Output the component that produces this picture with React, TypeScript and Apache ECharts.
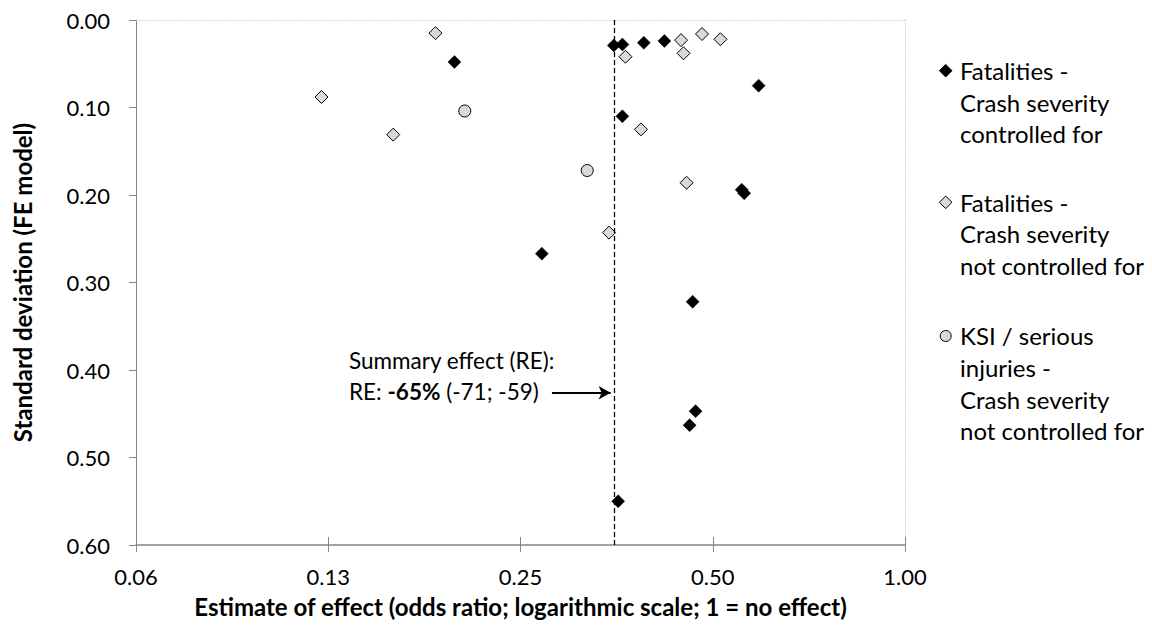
import React, { useEffect, useRef } from "react";
import * as echarts from "echarts";

// Estimate of effect (odds ratio) and standard deviation for each study
const fatalCtrl: [number, number][] = [
  [0.197, 0.048], [0.350, 0.029], [0.361, 0.028], [0.390, 0.026], [0.420, 0.024],
  [0.590, 0.075], [0.361, 0.110], [0.555, 0.194], [0.560, 0.198], [0.270, 0.267],
  [0.465, 0.322], [0.470, 0.447], [0.460, 0.463], [0.3555, 0.550],
];
const fatalNotCtrl: [number, number][] = [
  [0.184, 0.015], [0.122, 0.088], [0.158, 0.131], [0.365, 0.042], [0.446, 0.023],
  [0.450, 0.038], [0.481, 0.016], [0.514, 0.022], [0.386, 0.125], [0.455, 0.186],
  [0.344, 0.243],
];
const ksiNotCtrl: [number, number][] = [
  [0.2045, 0.104], [0.318, 0.172],
];
const summaryEffect = 0.35;
const arrowFrom: [number, number] = [0.28, 0.426];
const arrowTo: [number, number] = [0.346, 0.426];

const seriesNames = [
  "Fatalities -\nCrash severity\ncontrolled for",
  "Fatalities -\nCrash severity\nnot controlled for",
  "KSI / serious\ninjuries -\nCrash severity\nnot controlled for",
];

const FONT = "Lato, 'Open Sans', sans-serif";
const FS = 22;
const FS_BIG = 24;

export default function App() {
  const ref = useRef<HTMLDivElement>(null);
  useEffect(() => {
    if (!ref.current) return;
    const chart = echarts.init(ref.current, null, { renderer: "svg" });
    const axisGray = "#868686";
    const logAxisBase = {
      type: "log" as const,
      logBase: 2,
      min: 0.0625,
      max: 1,
      interval: 1,
    };
    const gridBox = { left: 136, right: 247, top: 20, bottom: 83, containLabel: false };
    const legendTop = [70.7, 202.3, 336];
    const graphic: any[] = [];
    const mx = 945.7;
    const s = 6.3;
    graphic.push({
      type: "polygon",
      shape: { points: [[mx, legendTop[0] - s], [mx + s, legendTop[0]], [mx, legendTop[0] + s], [mx - s, legendTop[0]]] },
      style: { fill: "#000", stroke: "#000", lineWidth: 1 },
    });
    graphic.push({
      type: "polygon",
      shape: { points: [[mx, legendTop[1] - s], [mx + s, legendTop[1]], [mx, legendTop[1] + s], [mx - s, legendTop[1]]] },
      style: { fill: "#d9d9d9", stroke: "#000", lineWidth: 1 },
    });
    graphic.push({
      type: "circle",
      shape: { cx: mx, cy: legendTop[2], r: 5.5 },
      style: { fill: "#d9d9d9", stroke: "#000", lineWidth: 1 },
    });
    seriesNames.forEach((n, i) => {
      graphic.push({
        type: "text",
        left: 960,
        top: legendTop[i] - 16,
        style: { text: n, font: `${FS_BIG}px ${FONT}`, fill: "#000", lineHeight: 31.7 },
      });
    });
    graphic.push({
      type: "text",
      left: 349,
      top: 344.5,
      style: {
        text: "Summary effect (RE):\nRE: {b|-65%} (-71; -59)",
        font: `22.5px ${FONT}`,
        fill: "#000",
        lineHeight: 31,
        rich: { b: { fontWeight: "bold", fontSize: 22.5, fontFamily: FONT, fill: "#000", lineHeight: 31 } },
      },
    });

    chart.setOption({
      animation: false,
      textStyle: { fontFamily: FONT },
      grid: [gridBox, gridBox],
      xAxis: [
        {
          ...logAxisBase,
          gridIndex: 0,
          position: "bottom",
          name: "Estimate of effect (odds ratio; logarithmic scale; 1 = no effect)",
          nameLocation: "middle",
          nameGap: 49,
          nameTextStyle: { fontSize: FS_BIG, fontWeight: "bold", color: "#000", fontFamily: FONT },
          axisLine: { show: true, onZero: false, lineStyle: { color: axisGray, width: 1.5 } },
          axisTick: { show: true, inside: false, length: 7, lineStyle: { color: axisGray, width: 1 } },
          axisLabel: {
            margin: 20,
            fontSize: FS,
            color: "#000",
            fontFamily: FONT,
            formatter: (v: number) => v.toFixed(2),
          },
          splitLine: { show: false },
        },
        {
          ...logAxisBase,
          gridIndex: 0,
          position: "top",
          axisLine: { show: true, onZero: false, lineStyle: { color: "#d0d0d0", width: 1, type: [1, 2] } },
          axisTick: { show: false },
          axisLabel: { show: false },
          splitLine: { show: false },
        },
        {
          ...logAxisBase,
          gridIndex: 1,
          position: "bottom",
          axisLine: { show: false, onZero: false },
          axisTick: { show: true, inside: true, length: 8, lineStyle: { color: axisGray, width: 1 } },
          axisLabel: { show: false },
          splitLine: { show: false },
        },
      ],
      yAxis: [
        {
          type: "value",
          gridIndex: 0,
          inverse: true,
          min: 0,
          max: 0.6,
          interval: 0.1,
          position: "left",
          name: "Standard deviation (FE model)",
          nameLocation: "middle",
          nameRotate: 90,
          nameGap: 102,
          nameTextStyle: { fontSize: FS_BIG, fontWeight: "bold", color: "#000", fontFamily: FONT },
          axisLine: { show: true, onZero: false, lineStyle: { color: axisGray, width: 1 } },
          axisTick: { show: true, inside: false, length: 7, lineStyle: { color: axisGray, width: 1 } },
          axisLabel: {
            margin: 26,
            fontSize: FS,
            color: "#000",
            fontFamily: FONT,
            formatter: (v: number) => v.toFixed(2),
          },
          splitLine: { show: false },
        },
        {
          type: "value",
          gridIndex: 0,
          inverse: true,
          min: 0,
          max: 0.6,
          interval: 0.1,
          position: "right",
          axisLine: { show: true, onZero: false, lineStyle: { color: "#d0d0d0", width: 1, type: [1, 2] } },
          axisTick: { show: false },
          axisLabel: { show: false },
          splitLine: { show: false },
        },
        {
          type: "value",
          gridIndex: 1,
          inverse: true,
          min: 0,
          max: 0.6,
          interval: 0.1,
          axisLine: { show: false, onZero: false },
          axisTick: { show: false },
          axisLabel: { show: false },
          splitLine: { show: false },
        },
      ],
      series: [
        {
          type: "scatter",
          name: seriesNames[0],
          xAxisIndex: 0,
          yAxisIndex: 0,
          data: fatalCtrl,
          symbol: "diamond",
          symbolSize: 13,
          itemStyle: { color: "#000", borderColor: "#000", borderWidth: 0.5, opacity: 1 },
          z: 5,
          markLine: {
            silent: true,
            symbol: "none",
            label: { show: false },
            lineStyle: { color: "#000", type: [5, 3], width: 1.3 },
            data: [{ xAxis: summaryEffect }],
          },
        },
        {
          type: "scatter",
          name: seriesNames[1],
          xAxisIndex: 0,
          yAxisIndex: 0,
          data: fatalNotCtrl,
          symbol: "diamond",
          symbolSize: 13,
          itemStyle: { color: "#d9d9d9", borderColor: "#000", borderWidth: 1, opacity: 1 },
          z: 4,
          markLine: {
            silent: true,
            symbol: ["none", "arrow"],
            symbolSize: [10, 12],
            label: { show: false },
            lineStyle: { color: "#000", type: "solid", width: 2 },
            data: [[{ coord: arrowFrom }, { coord: arrowTo }]],
          },
        },
        {
          type: "scatter",
          name: seriesNames[2],
          xAxisIndex: 0,
          yAxisIndex: 0,
          data: ksiNotCtrl,
          symbol: "circle",
          symbolSize: 12,
          itemStyle: { color: "#d9d9d9", borderColor: "#000", borderWidth: 1, opacity: 1 },
          z: 4,
        },
      ],
      graphic,
    });
    return () => chart.dispose();
  }, []);
  return (
    <div
      ref={ref}
      style={{ position: "fixed", left: 0, top: 0, width: 1152, height: 628, background: "#fff" }}
    />
  );
}
